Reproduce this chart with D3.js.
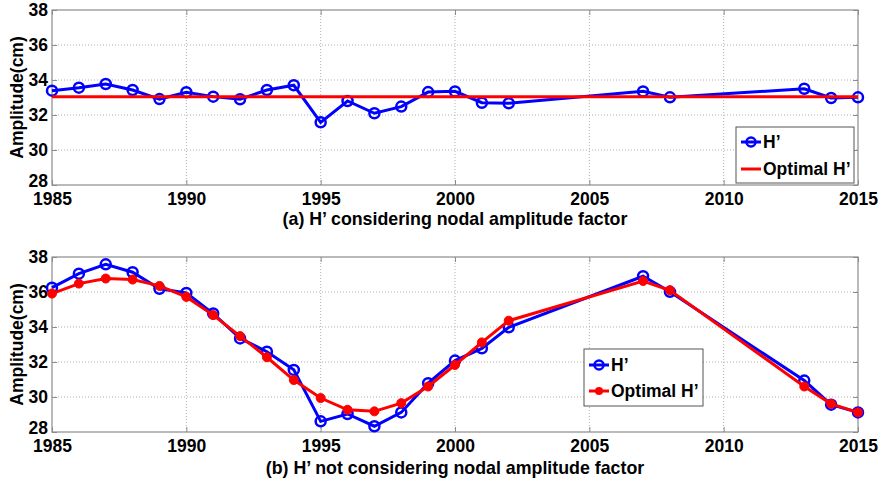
<!DOCTYPE html>
<html>
<head>
<meta charset="utf-8">
<script src="https://cdn.jsdelivr.net/npm/d3@7"></script>
<style>
  body { margin: 0; background: #fff; }
  text { font-family: "Liberation Sans", Arial, sans-serif; font-weight: bold; }
</style>
</head>
<body>
<script>
// years with observations
var years = [1985, 1986, 1987, 1988, 1989, 1990, 1991, 1992, 1993, 1994, 1995, 1996, 1997, 1998, 1999, 2000, 2001, 2002, 2007, 2008, 2013, 2014, 2015]

// (a) with nodal factor
var hA = [33.39, 33.56, 33.77, 33.43, 32.91, 33.30, 33.05, 32.90, 33.43, 33.70, 31.58, 32.80, 32.10, 32.48, 33.31, 33.35, 32.70, 32.67, 33.35, 33.01, 33.50, 32.97, 33.01]
var optimalA = 33.05

// (b) without nodal factor
var hB = [36.25, 37.05, 37.58, 37.13, 36.18, 35.95, 34.77, 33.35, 32.59, 31.55, 28.61, 29.03, 28.33, 29.12, 30.79, 32.08, 32.78, 33.98, 36.90, 36.01, 30.94, 29.56, 29.12]
var optB = [35.91, 36.48, 36.77, 36.71, 36.35, 35.72, 34.68, 33.48, 32.27, 30.97, 29.94, 29.27, 29.18, 29.65, 30.60, 31.83, 33.12, 34.36, 36.63, 36.10, 30.60, 29.61, 29.12]

var xTicks = [1985, 1990, 1995, 2000, 2005, 2010, 2015]
var yTicks = [28, 30, 32, 34, 36, 38]

var W = 880, H = 483
var svg = d3.select("body").append("svg")
    .attr("width", W)
    .attr("height", H)

var left = 52, right = 858
var fs = "17.5px"

var x = d3.scaleLinear().domain([1985, 2015]).range([left, right])

function panel(top, bottom, title, titleY) {
    var y = d3.scaleLinear().domain([28, 38]).range([bottom, top])
    var g = svg.append("g")

    // grid (dotted)
    g.selectAll(".gx").data(xTicks.slice(1, -1)).enter().append("line")
        .attr("x1", d => x(d)).attr("x2", d => x(d))
        .attr("y1", top).attr("y2", bottom)
        .attr("stroke", "#b0b0b0").attr("stroke-width", 1).attr("stroke-dasharray", "1,2")
    g.selectAll(".gy").data(yTicks.slice(1, -1)).enter().append("line")
        .attr("x1", left).attr("x2", right)
        .attr("y1", d => y(d)).attr("y2", d => y(d))
        .attr("stroke", "#b0b0b0").attr("stroke-width", 1).attr("stroke-dasharray", "1,2")

    // frame
    g.append("rect")
        .attr("x", left).attr("y", top)
        .attr("width", right - left).attr("height", bottom - top)
        .attr("fill", "none").attr("stroke", "#8c8c8c").attr("stroke-width", 1.2)

    // axes
    var ax = g.append("g").attr("transform", "translate(0," + bottom + ")")
        .call(d3.axisBottom(x).tickValues(xTicks).tickFormat(d3.format("d")).tickSize(-5).tickPadding(8))
    var ay = g.append("g").attr("transform", "translate(" + left + ",0)")
        .call(d3.axisLeft(y).tickValues(yTicks).tickSize(-5).tickPadding(4))
    var axr = g.append("g").attr("transform", "translate(" + right + ",0)")
        .call(d3.axisRight(y).tickValues(yTicks).tickSize(-5).tickFormat(""))
    var axt = g.append("g").attr("transform", "translate(0," + top + ")")
        .call(d3.axisTop(x).tickValues(xTicks).tickSize(-5).tickFormat(""))
    ;[ax, ay, axr, axt].forEach(function (a) {
        a.select(".domain").remove()
        a.selectAll("line").attr("stroke", "#8c8c8c")
        a.selectAll("text").attr("fill", "#000").style("font-size", fs)
            .style("font-family", "'Liberation Sans', Arial, sans-serif").style("font-weight", "bold")
    })
    // lowest y label sits a touch higher, like the original
    ay.selectAll(".tick text").filter(d => d === 28).attr("dy", "0.1em")

    // labels
    g.append("text")
        .attr("transform", "translate(23," + ((top + bottom) / 2) + ") rotate(-90)")
        .attr("text-anchor", "middle")
        .style("font-size", fs)
        .text("Amplitude(cm)")
    g.append("text")
        .attr("x", 455).attr("y", titleY)
        .attr("text-anchor", "middle")
        .style("font-size", "17.8px")
        .text(title)
    return y
}

var line = d3.line()

// ---- panel (a)
var yA = panel(10, 185, "(a) H’ considering nodal amplitude factor", 225)
svg.append("path")
    .attr("d", line(years.map((d, i) => [x(d), yA(hA[i])])))
    .attr("fill", "none").attr("stroke", "#0000ff").attr("stroke-width", 3)
svg.selectAll(".ma").data(years).enter().append("circle")
    .attr("cx", d => x(d)).attr("cy", (d, i) => yA(hA[i])).attr("r", 5)
    .attr("fill", "none").attr("stroke", "#0000ff").attr("stroke-width", 2.5)
svg.append("line")
    .attr("x1", x(1985)).attr("x2", x(2015))
    .attr("y1", yA(optimalA)).attr("y2", yA(optimalA))
    .attr("stroke", "#ff0000").attr("stroke-width", 3)

// legend (a)
var lgA = svg.append("g").attr("transform", "translate(736,127)")
lgA.append("rect").attr("width", 118).attr("height", 56)
    .attr("fill", "#fff").attr("stroke", "#555").attr("stroke-width", 1)
lgA.append("line").attr("x1", 5).attr("x2", 25).attr("y1", 15).attr("y2", 15)
    .attr("stroke", "#0000ff").attr("stroke-width", 3)
lgA.append("circle").attr("cx", 15).attr("cy", 15).attr("r", 4.5)
    .attr("fill", "none").attr("stroke", "#0000ff").attr("stroke-width", 2.5)
lgA.append("text").attr("x", 27).attr("y", 21).style("font-size", fs).text("H’")
lgA.append("line").attr("x1", 5).attr("x2", 25).attr("y1", 42).attr("y2", 42)
    .attr("stroke", "#ff0000").attr("stroke-width", 3)
lgA.append("text").attr("x", 27).attr("y", 48).style("font-size", fs).text("Optimal H’")

// ---- panel (b)
var yB = panel(257, 432, "(b) H’ not considering nodal amplitude factor", 474)
svg.append("path")
    .attr("d", line(years.map((d, i) => [x(d), yB(hB[i])])))
    .attr("fill", "none").attr("stroke", "#0000ff").attr("stroke-width", 3)
svg.selectAll(".mb").data(years).enter().append("circle")
    .attr("cx", d => x(d)).attr("cy", (d, i) => yB(hB[i])).attr("r", 5)
    .attr("fill", "none").attr("stroke", "#0000ff").attr("stroke-width", 2.5)
svg.append("path")
    .attr("d", line(years.map((d, i) => [x(d), yB(optB[i])])))
    .attr("fill", "none").attr("stroke", "#ff0000").attr("stroke-width", 3)
svg.selectAll(".mo").data(years).enter().append("circle")
    .attr("cx", d => x(d)).attr("cy", (d, i) => yB(optB[i])).attr("r", 4.5)
    .attr("fill", "#ff0000").attr("stroke", "#ff0000").attr("stroke-width", 1)

// legend (b)
var lgB = svg.append("g").attr("transform", "translate(584,349)")
lgB.append("rect").attr("width", 119).attr("height", 57)
    .attr("fill", "#fff").attr("stroke", "#555").attr("stroke-width", 1)
lgB.append("line").attr("x1", 5).attr("x2", 25).attr("y1", 16).attr("y2", 16)
    .attr("stroke", "#0000ff").attr("stroke-width", 3)
lgB.append("circle").attr("cx", 15).attr("cy", 16).attr("r", 4.5)
    .attr("fill", "none").attr("stroke", "#0000ff").attr("stroke-width", 2.5)
lgB.append("text").attr("x", 27).attr("y", 22).style("font-size", fs).text("H’")
lgB.append("line").attr("x1", 5).attr("x2", 25).attr("y1", 42).attr("y2", 42)
    .attr("stroke", "#ff0000").attr("stroke-width", 3)
lgB.append("circle").attr("cx", 15).attr("cy", 42).attr("r", 4)
    .attr("fill", "#ff0000")
lgB.append("text").attr("x", 27).attr("y", 48).style("font-size", fs).text("Optimal H’")
</script>
</body>
</html>
